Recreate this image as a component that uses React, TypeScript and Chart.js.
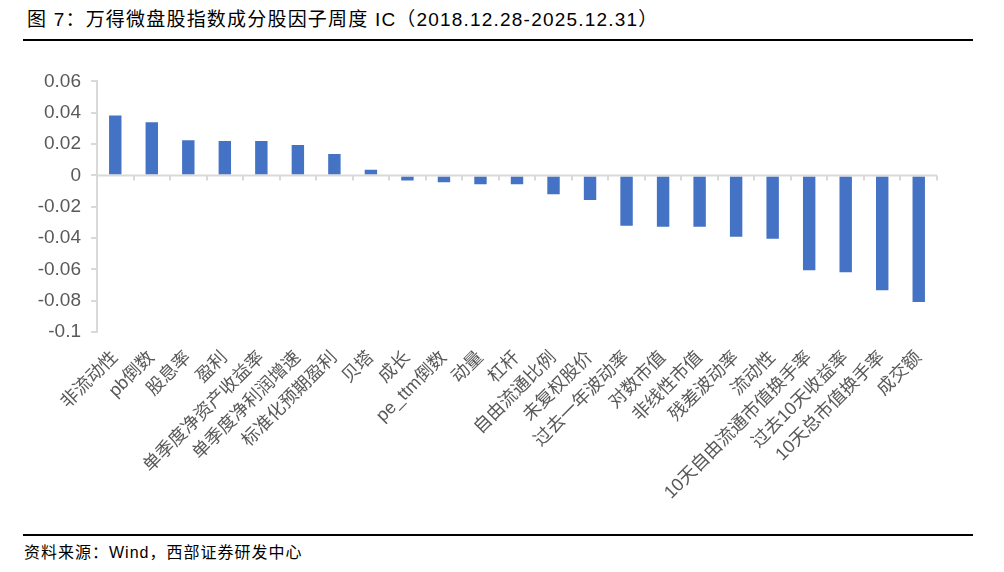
import React, { useEffect, useRef } from "react";
import { Chart, registerables } from "chart.js";

Chart.register(...registerables);

const categories: string[] = [
  "非流动性",
  "pb倒数",
  "股息率",
  "盈利",
  "单季度净资产收益率",
  "单季度净利润增速",
  "标准化预期盈利",
  "贝塔",
  "成长",
  "pe_ttm倒数",
  "动量",
  "杠杆",
  "自由流通比例",
  "未复权股价",
  "过去一年波动率",
  "对数市值",
  "非线性市值",
  "残差波动率",
  "流动性",
  "10天自由流通市值换手率",
  "过去10天收益率",
  "10天总市值换手率",
  "成交额",
];

const icValues: number[] = [
  0.0383, 0.0339, 0.0225, 0.0219, 0.0219, 0.0194, 0.0137, 0.0036, -0.0032,
  -0.0044, -0.0057, -0.0057, -0.012, -0.0158, -0.0322, -0.0328, -0.0328,
  -0.0392, -0.0404, -0.0606, -0.0619, -0.0733, -0.0809,
];

const yMin = -0.1;
const yMax = 0.06;
const yStep = 0.02;

const titleText = "图 7：万得微盘股指数成分股因子周度 IC（2018.12.28-2025.12.31）";
const sourceText = "资料来源：Wind，西部证券研发中心";

const AXIS_COLOR = "#d9d9d9";
const BAR_COLOR = "#4472c4";
const LABEL_COLOR = "#595959";
const FONT = "'Liberation Sans', 'Noto Sans CJK SC', sans-serif";

const zeroLinePlugin = {
  id: "zeroLine",
  afterDatasetsDraw(chart: any) {
    const { ctx, scales, chartArea } = chart;
    const x = scales.x;
    const y = scales.y;
    const y0 = y.getPixelForValue(0);
    ctx.save();
    ctx.strokeStyle = AXIS_COLOR;
    ctx.lineWidth = 2;
    ctx.beginPath();
    ctx.moveTo(chartArea.left, y0);
    ctx.lineTo(chartArea.right, y0);
    ctx.stroke();
    const n = categories.length;
    const step = (chartArea.right - chartArea.left) / n;
    for (let i = 1; i <= n; i++) {
      const px = Math.round(x.getPixelForValue(i - 1) + step / 2);
      ctx.beginPath();
      ctx.moveTo(px, y0);
      ctx.lineTo(px, y0 + 5);
      ctx.stroke();
    }
    ctx.restore();
  },
};

function BarChart() {
  const ref = useRef<HTMLCanvasElement | null>(null);
  useEffect(() => {
    if (!ref.current) return;
    const chart = new Chart(ref.current, {
      type: "bar",
      data: {
        labels: categories,
        datasets: [
          {
            data: icValues,
            backgroundColor: BAR_COLOR,
            borderWidth: 0,
            barPercentage: 0.34,
            categoryPercentage: 1,
          },
        ],
      },
      options: {
        animation: false,
        responsive: false,
        maintainAspectRatio: false,
        layout: { padding: { top: 19, right: 67, bottom: 0, left: 0 } },
        plugins: {
          legend: { display: false },
          tooltip: { enabled: false },
        },
        scales: {
          x: {
            grid: { display: false, drawTicks: false },
            border: { display: false },
            afterFit(scale: any) {
              scale.height = 188;
            },
            ticks: {
              autoSkip: false,
              minRotation: 45,
              maxRotation: 45,
              color: LABEL_COLOR,
              padding: 15,
              font: { family: FONT, size: 18 },
            },
          },
          y: {
            min: yMin,
            max: yMax,
            afterFit(scale: any) {
              scale.width = 97;
            },
            border: { display: true, color: AXIS_COLOR, width: 2 },
            grid: {
              drawOnChartArea: false,
              drawTicks: true,
              tickLength: 6,
              color: AXIS_COLOR,
              lineWidth: 2,
            },
            ticks: {
              stepSize: yStep,
              color: LABEL_COLOR,
              padding: 10,
              font: { family: FONT, size: 19 },
              callback: (v: any) => String(Number(Number(v).toFixed(2))),
            },
          },
        },
      },
      plugins: [zeroLinePlugin],
    });
    return () => chart.destroy();
  }, []);
  return (
    <canvas
      ref={ref}
      width={1004}
      height={460}
      style={{ position: "absolute", left: 0, top: 60, width: 1004, height: 460 }}
    />
  );
}

export default function App() {
  return (
    <div
      style={{
        position: "fixed",
        left: 0,
        top: 0,
        width: 1004,
        height: 572,
        background: "#fff",
        overflow: "hidden",
        fontFamily: FONT,
      }}
    >
      <div
        style={{
          position: "absolute",
          left: 27,
          top: 8,
          fontSize: 19,
          letterSpacing: "1.2px",
          lineHeight: "24px",
          color: "#000",
          whiteSpace: "nowrap",
        }}
      >
        {titleText}
      </div>
      <div
        style={{
          position: "absolute",
          left: 23,
          top: 39,
          width: 950,
          height: 2,
          background: "#000",
        }}
      />
      <BarChart />
      <div
        style={{
          position: "absolute",
          left: 23,
          top: 534,
          width: 950,
          height: 1.5,
          background: "#000",
        }}
      />
      <div
        style={{
          position: "absolute",
          left: 24,
          top: 543,
          fontSize: 16,
          letterSpacing: "1px",
          lineHeight: "20px",
          color: "#000",
          whiteSpace: "nowrap",
        }}
      >
        {sourceText}
      </div>
    </div>
  );
}
